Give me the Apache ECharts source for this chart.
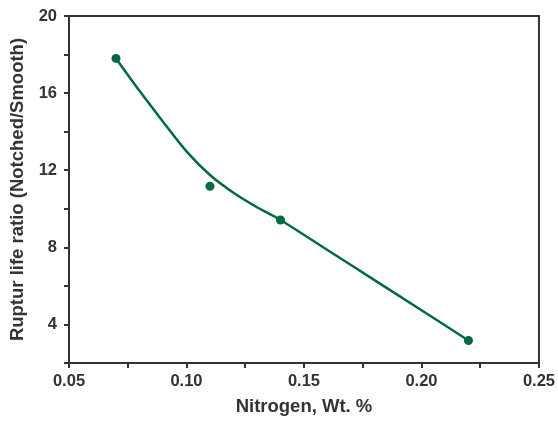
<!DOCTYPE html>
<html><head><meta charset="utf-8">
<script src="https://cdn.jsdelivr.net/npm/echarts@6/dist/echarts.min.js"></script>
<style>html,body{margin:0;padding:0;background:#fff}#c{width:558px;height:421px}</style>
</head><body><div id="c"></div>
<script>
var nitrogen = [0.07, 0.11, 0.14, 0.22];
var ratio = [17.8, 11.17, 9.42, 3.17];
var curveX = [0.07, 0.08, 0.09, 0.10, 0.11, 0.12, 0.13, 0.14, 0.16, 0.18, 0.20, 0.22];
var curveY = [17.8, 16.12, 14.52, 12.98, 11.75, 10.83, 10.08, 9.42, 7.86, 6.3, 4.74, 3.17];
var xTicks = [0.05, 0.10, 0.15, 0.20, 0.25];
var yTicks = [4, 8, 12, 16, 20];

var green = '#006B3F';
var dark = '#333333';
var font = 'Liberation Sans, Arial, sans-serif';
var chart = echarts.init(document.getElementById('c'));
chart.setOption({
  animation: false,
  backgroundColor: '#fff',
  grid: {left: 67, right: 17, top: 16, bottom: 57, show: true, borderColor: dark, borderWidth: 2},
  xAxis: {
    type: 'value', min: 0.05, max: 0.25, interval: 0.025,
    name: 'Nitrogen, Wt. %', nameLocation: 'middle', nameGap: 34,
    nameTextStyle: {fontFamily: font, fontWeight: 'bold', fontSize: 18.5, color: dark},
    axisLine: {lineStyle: {color: dark, width: 2}},
    axisTick: {show: true, length: 5, lineStyle: {color: dark, width: 2}},
    splitLine: {show: false},
    axisLabel: {
      fontFamily: font, fontWeight: 'bold', fontSize: 16.5, color: dark, margin: 10,
      formatter: function (v) {
        for (var i = 0; i < xTicks.length; i++) if (Math.abs(v - xTicks[i]) < 1e-6) return xTicks[i].toFixed(2);
        return '';
      }
    }
  },
  yAxis: {
    type: 'value', min: 2, max: 20, interval: 2,
    name: 'Ruptur life ratio (Notched/Smooth)', nameLocation: 'middle', nameGap: 42, nameRotate: 90,
    nameTextStyle: {fontFamily: font, fontWeight: 'bold', fontSize: 18.5, color: dark},
    axisLine: {lineStyle: {color: dark, width: 2}},
    axisTick: {show: true, length: 5, lineStyle: {color: dark, width: 2}},
    splitLine: {show: false},
    axisLabel: {
      fontFamily: font, fontWeight: 'bold', fontSize: 16.5, color: dark, margin: 12,
      formatter: function (v) { return yTicks.indexOf(v) >= 0 ? String(v) : ''; }
    }
  },
  series: [
    {
      type: 'line', smooth: 0.3, symbol: 'none',
      data: curveX.map(function (x, i) { return [x, curveY[i]]; }),
      lineStyle: {color: green, width: 2.5}
    },
    {
      type: 'scatter', symbol: 'circle', symbolSize: 9,
      data: nitrogen.map(function (x, i) { return [x, ratio[i]]; }),
      itemStyle: {color: green, opacity: 1}
    }
  ]
});
</script></body></html>
